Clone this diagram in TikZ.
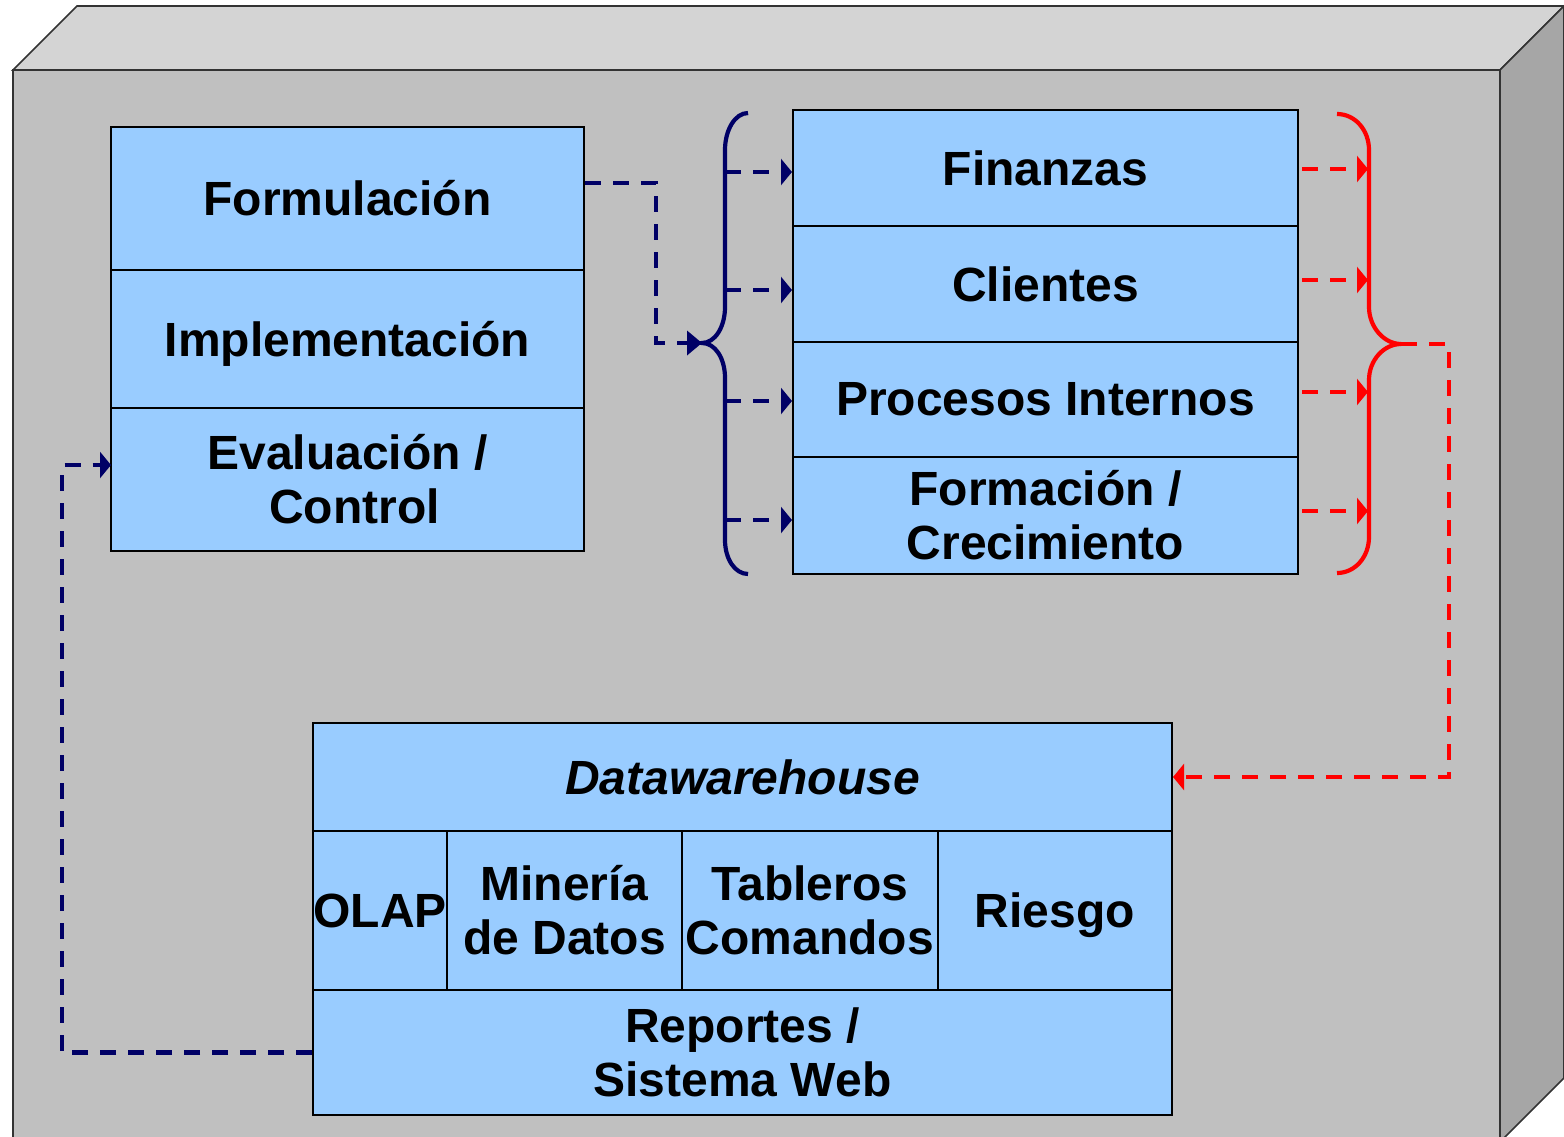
\documentclass[tikz,border=0pt]{standalone}
\usepackage{fontspec}
\setmainfont{Liberation Sans}
\usetikzlibrary{arrows.meta}
\definecolor{boxblue}{HTML}{99CCFF}
\definecolor{navyc}{HTML}{000066}
\definecolor{redc}{HTML}{FF0000}
\definecolor{topface}{HTML}{D4D4D4}
\definecolor{frontface}{HTML}{C0C0C0}
\definecolor{sideface}{HTML}{A6A6A6}
\tikzset{
  cell/.style={draw=black, line width=1pt, fill=boxblue, inner sep=0pt, align=center,
    font=\fontsize{24pt}{27pt}\selectfont\bfseries},
  nodesc/.style={text depth=0pt},
  navydash/.style={draw=navyc, line width=2.35pt, dash pattern=on 8pt off 6pt},
  reddash/.style={draw=redc, line width=2.35pt, dash pattern=on 8pt off 6pt},
  navytip/.style={-{Triangle[length=5.5pt,width=13pt]}},
  bigtip/.style={-{Triangle[length=7.5pt,width=12pt]}},
  bracenavy/.style={draw=navyc, line width=2.1pt},
  bracered/.style={draw=redc, line width=2.1pt},
  face/.style={draw=black!80, line width=0.8pt}
}
\begin{document}
\begin{tikzpicture}[x=0.5pt,y=-0.5pt]
\useasboundingbox (0,0) rectangle (1564,1136);
\begin{scope}
\clip (0,0) rectangle (1564,1136);
\fill[topface] (13,70) -- (77,6) -- (1564,6) -- (1500,70) -- cycle;
\draw[face] (13,70) -- (77,6) -- (1564,6) -- (1500,70) -- cycle;
\fill[sideface] (1500,70) -- (1564,6) -- (1564,1078) -- (1500,1142) -- cycle;
\draw[face] (1500,70) -- (1564,6) -- (1564,1078) -- (1500,1142) -- cycle;
\fill[frontface] (13,70) rectangle (1500,1150);
\draw[face] (13,1150) -- (13,70) -- (1500,70) -- (1500,1150);
\end{scope}

% left column
\node[cell, minimum width=236.5pt, minimum height=71.5pt] (form) at (347.5,198.5) {Formulación};
\node[cell, nodesc, minimum width=236.5pt, minimum height=69pt] (impl) at (347.5,339) {Implementación};
\node[cell, minimum width=236.5pt, minimum height=71.5pt] (eval) at (347.5,479.5) {Evaluación /\\\hspace*{7pt}Control};

% right column
\node[cell, minimum width=252.5pt, minimum height=58pt] (fin) at (1045.5,168) {Finanzas};
\node[cell, minimum width=252.5pt, minimum height=58pt] (cli) at (1045.5,284) {Clientes};
\node[cell, minimum width=252.5pt, minimum height=57.5pt] (proc) at (1045.5,399.5) {Procesos Internos};
\node[cell, minimum width=252.5pt, minimum height=58.5pt] (formc) at (1045.5,515.5) {Formación /\\Crecimiento};

% bottom block
\node[cell, minimum width=429.5pt, minimum height=54pt] (dw) at (742.5,777) {\itshape Datawarehouse};
\node[cell, minimum width=67pt, minimum height=79.5pt] (olap) at (380,910.5) {OLAP};
\node[cell, minimum width=117.5pt, minimum height=79.5pt] (mine) at (564.5,910.5) {Minería\\de Datos};
\node[cell, minimum width=128pt, minimum height=79.5pt] (tab) at (810,910.5) {Tableros\\Comandos};
\node[cell, nodesc, minimum width=117pt, minimum height=79.5pt] (ries) at (1055,910.5) {Riesgo};
\node[cell, minimum width=429.5pt, minimum height=62.5pt] (rep) at (742.5,1052.5) {Reportes /\\Sistema Web};

% braces
\coordinate (ltip) at (702,343);
\coordinate (rtip) at (1401,344);
\draw[bracenavy] (748,113) .. controls (735,113) and (725,130) .. (725,150) -- (725,307)
  .. controls (725,327) and (715,343) .. (ltip)
  .. controls (715,343) and (725,358) .. (725,378) -- (725,540)
  .. controls (725,559) and (735,574) .. (748,574);
\draw[bracered] (1337,114) .. controls (1355,114) and (1369,130) .. (1369,150) -- (1369,307)
  .. controls (1369,327) and (1384,344) .. (rtip)
  .. controls (1384,344) and (1369,360) .. (1369,380) -- (1369,537)
  .. controls (1369,557) and (1355,573) .. (1337,573);

% navy arrows from brace
\coordinate (lb1) at (725,172);
\coordinate (lb2) at (725,290);
\coordinate (lb3) at (725,401);
\coordinate (lb4) at (725,520);
\draw[navydash,navytip] (lb1) -- (lb1 -| fin.west);
\draw[navydash,navytip] (lb2) -- (lb2 -| cli.west);
\draw[navydash,navytip] (lb3) -- (lb3 -| proc.west);
\draw[navydash,navytip] (lb4) -- (lb4 -| formc.west);

% red arrows into brace
\coordinate (rb1) at (1368,169);
\coordinate (rb2) at (1368,280);
\coordinate (rb3) at (1368,392);
\coordinate (rb4) at (1368,511);
\draw[reddash,navytip] ([xshift=1.5pt]rb1 -| fin.east) -- (rb1);
\draw[reddash,navytip] ([xshift=1.5pt]rb2 -| cli.east) -- (rb2);
\draw[reddash,navytip] ([xshift=1.5pt]rb3 -| proc.east) -- (rb3);
\draw[reddash,navytip] ([xshift=1.5pt]rb4 -| formc.east) -- (rb4);

% connectors
\draw[navydash,bigtip] ([yshift=7.75pt]form.east) -| (656,343) -- (ltip);
\draw[reddash,navytip] (rtip) -- (1449,344) |- (dw.east);
\coordinate (ein) at (111,465);
\draw[navydash,navytip] (rep.west) -| (62,465) -- (ein);
\end{tikzpicture}
\end{document}
